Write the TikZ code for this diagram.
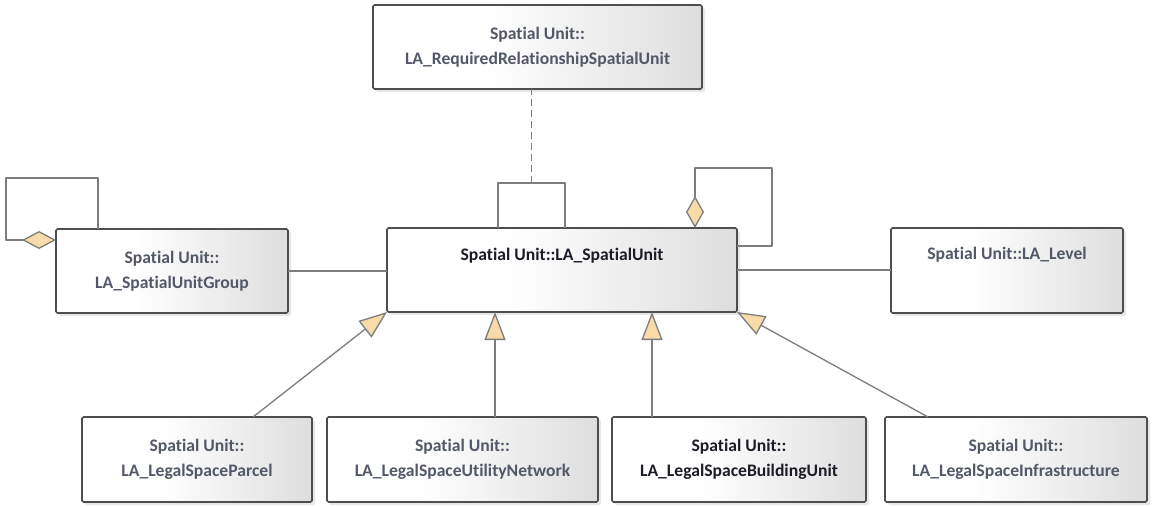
\documentclass[tikz,border=0pt]{standalone}
\usepackage{fontspec}
\setmainfont[Ligatures=NoCommon]{Carlito}
\usetikzlibrary{arrows.meta,shadows,calc}
\definecolor{umlfill}{RGB}{248,219,168}
\definecolor{txtgray}{RGB}{82,88,104}
\definecolor{txtdark}{RGB}{28,28,38}
\definecolor{framecol}{RGB}{78,78,78}
\definecolor{linecol}{RGB}{125,125,125}
\pgfdeclarehorizontalshading{boxshade}{100bp}{color(0bp)=(white); color(25bp)=(white); color(42bp)=(white); color(75bp)=(black!13); color(100bp)=(black!13)}
\begin{document}
\begin{tikzpicture}[x=1pt,y=-1pt,
  classbox/.style={draw=framecol, line width=1.6pt, rounded corners=1.5pt, shading=boxshade,
    drop shadow={shadow xshift=3pt,shadow yshift=-3pt,fill=black!18},
    inner sep=0pt, outer sep=0pt, align=center,
    font=\fontsize{17.6}{25}\selectfont\bfseries, text=txtgray},
  conn/.style={draw=linecol, line width=1.3pt, line join=round},
  gen/.style={conn, -{Triangle[length=28pt,width=21pt,fill=umlfill]}},
  aggh/.style={conn, -{Diamond[length=34pt,width=18pt,fill=umlfill]}},
  aggv/.style={conn, -{Diamond[length=32pt,width=18pt,fill=umlfill]}},
  dep/.style={conn, dash pattern=on 7pt off 4pt}
]
\fill[white] (0,0) rectangle (1153,506);
\useasboundingbox (0,0) rectangle (1153,506);

% classes
\node[classbox, minimum width=329pt, minimum height=84pt] (top) at (537.5,47)
  {Spatial Unit::\\LA\_RequiredRelationshipSpatialUnit};
\node[classbox, minimum width=232pt, minimum height=84pt] (grp) at (172,271)
  {Spatial Unit::\\LA\_SpatialUnitGroup};
\node[classbox, text=txtdark, minimum width=350pt, minimum height=84pt,
  text height=20.5pt, text depth=39.5pt] (su) at (562,270)
  {Spatial Unit::LA\_SpatialUnit};
\node[classbox, minimum width=232pt, minimum height=85pt,
  text height=19pt, text depth=41pt] (lvl) at (1007,270.5)
  {Spatial Unit::LA\_Level};
\node[classbox, minimum width=230pt, minimum height=85pt] (parcel) at (197,459.5)
  {Spatial Unit::\\LA\_LegalSpaceParcel};
\node[classbox, minimum width=271pt, minimum height=85pt] (util) at (462.5,459.5)
  {Spatial Unit::\\LA\_LegalSpaceUtilityNetwork};
\node[classbox, text=txtdark, minimum width=254pt, minimum height=85pt] (bld) at (739,459.5)
  {Spatial Unit::\\LA\_LegalSpaceBuildingUnit};
\node[classbox, minimum width=262pt, minimum height=85pt] (infra) at (1016,459.5)
  {Spatial Unit::\\LA\_LegalSpaceInfrastructure};

% association class link
\draw[conn] ($(su.north west)+(111,0)$) -- ++(0,-45) -- ++(67,0) -- ++(0,45);
\coordinate (amid) at ($(su.north west)+(144.5,-45)$);
\draw[dep] (amid) -- (amid |- top.south);

% self aggregation on LA_SpatialUnit
\draw[aggv] ($(su.north east)+(0,18)$) -- ++(35,0) -- ++(0,-78)
  -- ($(su.north west)+(308,-60)$) -- ($(su.north west)+(308,0)$);

% self aggregation on LA_SpatialUnitGroup
\draw[aggh] ($(grp.north west)+(42,0)$) -- ++(0,-51) -- ++(-92,0) -- ++(0,62)
  -- ($(grp.north west)+(0,11)$);

% associations
\draw[conn] (grp.east) -- (grp.east -| su.west);
\draw[conn] (su.east) -- (su.east -| lvl.west);

% generalizations
\draw[gen] ($(parcel.north west)+(171,0)$) -- (su.south west);
\coordinate (g2) at ($(su.south west)+(108,0)$);
\draw[gen] (g2 |- util.north) -- (g2);
\coordinate (g3) at ($(su.south west)+(265,0)$);
\draw[gen] (g3 |- bld.north) -- (g3);
\draw[gen] ($(infra.north west)+(43,0)$) -- (su.south east);
\end{tikzpicture}
\end{document}
